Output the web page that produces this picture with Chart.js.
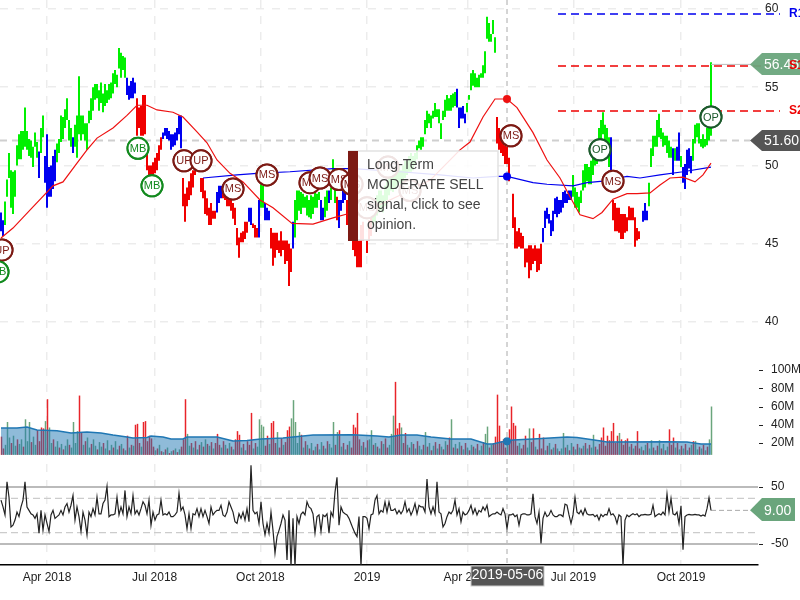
<!DOCTYPE html>
<html>
<head>
<meta charset="utf-8">
<title>Long-Term signal chart</title>
<script src="https://cdn.jsdelivr.net/npm/chart.js@4/dist/chart.umd.min.js"></script>
<style>
  html, body { margin: 0; padding: 0; background: #fff; }
  canvas { display: block; }
</style>
</head>
<body>
<canvas id="chart" width="800" height="600"></canvas>
<script>
// x is the bar number, one bar per session
var quarterTicks = [23, 76.8, 129.7, 183, 233.4, 286.2, 340];
var quarterLabels = ['Apr 2018', 'Jul 2018', 'Oct 2018', '2019', 'Apr 2019', 'Jul 2019', 'Oct 2019'];
var priceTicks = [40, 45, 50, 55, 60];
var volumeTicks = [20, 40, 60, 80, 100];
var volumeTickLabels = ['20M', '40M', '60M', '80M', '100M'];
var oscTicks = [50, -50];
var oscGuides = [30, -30];

var priceLow = [
  45.8,45.5,46.2,48,49.2,47.3,46.9,48,50,50.4,
  50.4,51,51.2,51,50.6,50.5,49.9,51.2,50.5,49.2,
  50.8,51.8,48.9,47.3,48,48,48.5,49,50.2,50.8,
  51.5,51.7,52.4,52.9,51.6,51.2,50.8,51.2,50.5,52,
  51.6,52,51.6,51,52.7,52.9,53.5,54.2,54.3,53.5,
  54,53.4,53.8,54,54.2,54.3,54.6,55.2,55,56.2,
  55.6,56.1,55.6,54.5,54.2,54.3,54.3,54.6,51.9,52.4,
  51.9,51.9,52,49.7,49.4,49.4,49.4,49.5,49.7,50.3,
  51,51.7,51.9,51.7,51.6,51,51.2,51.3,51.6,52,
  51.1,47.4,46.4,47.4,47.8,48.1,48.6,49.4,null,null,
  48.3,47.9,46.9,46.8,46.2,46.2,46.6,46.6,47,47.6,
  47.9,47.9,47.8,47.4,47.4,47.1,46.6,46.2,44.9,44.1,
  45.1,45.1,45.3,45.7,46.4,46.2,46,45.4,45.4,45.4,
  47.3,47.3,46.5,46.5,46.5,44.7,43.6,44.1,44.6,44.4,
  44.2,44.6,43.7,43.9,42.3,43.2,44.7,45.4,46.5,47.1,
  46.9,47.3,47.3,46.8,46.7,46.6,46.9,47.3,47.3,47.8,
  46.5,46.5,46.7,47.1,47.6,47.8,48.6,47.6,46.5,46,
  47.1,47.6,47.8,46.2,45.2,45.2,44.6,44.2,43.5,43.5,
  43.5,45.2,null,44.4,45.2,45.5,46.2,46.4,46.8,47,
  47.1,47,47.4,47.8,48.1,48.4,48.3,48.5,48.7,48.9,
  48.7,49,49.2,49.4,49.6,49.6,49.7,50,50.4,51.1,
  51,51.2,52,52.4,52.7,52.4,53,53.1,53.1,52.7,
  51.7,52.9,53.1,53.5,53.5,53.5,53.7,53.8,53.7,52.4,
  53,53,52.7,53.4,54.2,54.8,55.1,55,55,55,
  55.6,55.6,55.9,58.1,57.9,57.9,58.4,57.2,51.4,51,
  50.8,50.6,50.1,50.1,49,null,46,44.7,44.7,44.8,
  44.7,44.7,43.5,43.8,42.8,43.3,43.7,43.9,43.2,43.3,
  43.7,45.1,46,46.6,46.3,45.5,45.8,46.9,46.7,46.9,
  47,47.3,47.6,47.6,47.8,47.8,48,47.3,47.3,47,
  47.6,48.4,48.6,49,48.8,48.8,49.4,50,50.1,51,
  51.5,52,51,50.5,49.9,49.7,46.5,45.8,45.8,45.7,
  45.3,45.3,45.7,45.8,46.5,46.5,46.5,44.8,45.2,45.3,
  null,46.4,46.5,46.5,47.4,49.9,50.6,51.2,51.2,51.8,
  51.7,51.2,51.3,50.8,50.5,50.5,49.4,50.3,50.3,50.3,
  49.9,48.9,48.5,49.4,49.8,49.5,50.3,51.4,51.8,51.4,
  51.2,51.1,51.2,51.3,51.6,51.9
];
var priceHigh = [
  47,46.5,47.7,49.1,50.8,49.7,49.6,49.7,51.3,52,
  52.2,52.2,53.7,52.2,51.7,51.6,51.2,52.1,51.5,50.9,
  52.4,53.2,50.6,52,49.9,50,50.6,51,51.4,51.7,
  53.2,53.1,53.6,54.3,52.9,52.4,51.8,52.6,53.2,55.7,
  53.2,53.2,52.7,52.7,53.5,54.3,55,55.2,55.2,54.8,
  55.3,54.6,55.2,54.8,55.2,55.3,55.9,56.1,55.8,57.5,
  57.2,57,56.9,55.6,55.1,55.4,55.6,55.3,54.3,53.7,
  53.8,54.5,54.5,51,50,50,50.2,50.5,50.8,51.3,
  51.8,52.1,52.4,52.4,52.2,52,52,52.1,52.4,53.2,
  53.2,49.2,48.2,48.6,49,49.5,49.7,49.7,null,null,
  49.2,49.2,48.4,47.9,47.3,47.6,47.1,47.1,48.3,48.7,
  48.7,48.7,48.4,48.2,48,47.9,47.6,47.3,46,45.4,
  45.7,45.8,46.4,46.4,47.3,47.3,46.3,46.2,46,47.8,
  48.8,48.7,47.6,47.3,47.1,46,45.7,45.7,45.7,45.2,
  45.8,45.2,45.2,45.2,45,44.7,46.4,47.8,48.4,48.4,
  48.3,48.2,48,48.1,47.8,48.1,48,48.4,48.2,48.3,
  47.8,47.3,48,48.4,48.4,48.6,50.4,48.6,48,47.8,
  47.8,48.4,48.6,47.8,46.8,46.5,46.2,45.2,45.2,45.2,
  46.2,46.4,null,45.2,46.5,46.8,47.4,47.4,48.1,48.4,
  48.4,48.1,48.7,49,49.4,49.7,49.4,49.7,50,50,
  49.7,50,50.3,50.3,50.6,50.8,50.6,50.8,51.3,51.6,
  51.8,51.8,52.9,53.5,53.3,53.2,53.5,54,53.6,53.6,
  52.7,53.5,54.2,54.5,54.3,54.5,54.6,54.7,54.9,53.7,
  53.7,53.8,53.3,54,54.5,55.9,56.1,55.9,55.6,55.8,
  55.9,56.4,57.3,59.5,59.1,58.4,59.3,58.2,53.1,52.4,
  52,51.6,51.3,51.2,50.5,null,48.2,46.7,45.8,46,
  45.7,45.5,44.7,44.7,44.9,44.9,44.7,44.9,44.7,44.7,
  45,46,47.1,47.3,46.9,46.5,47.1,47.9,48,47.8,
  47.8,48.3,48.4,48.2,48.4,48.4,49.4,48.6,48.3,48,
  48.4,49.7,50.1,50.1,49.9,50.3,50.6,51.3,51.6,52.4,
  52.9,53.4,52.6,52.4,51.8,51.8,47.8,47.6,47.3,47.3,
  46.9,46.9,46.9,46.7,47.4,47.3,47.3,46.7,46,45.8,
  null,47.1,47.6,47.1,48.9,51.1,51.9,51.9,52.9,53.3,
  52.4,52.1,51.9,51.9,51.6,51.2,51.1,51.1,51.2,52.1,
  50.6,49.9,50.1,51,51.1,50.6,51.7,52.6,52.7,52.7,
  51.7,52,51.7,52.4,52.6,56.6
];
// trend colour of the bars as runs: [trend, number of bars]
var trendRuns = [
  ['b',2],['g',17],['b',1],['g',2],['b',6],['g',8],['b',1],['g',26],['b',5],['r',13],
  ['b',10],['r',17],['b',3],['r',13],['b',2],['r',3],['b',1],['g',2],['b',3],['r',11],
  ['b',1],['g',13],['b',2],['g',2],['b',1],['g',3],['r',1],['b',4],['r',13],['g',42],
  ['b',5],['g',15],['r',23],['b',15],['g',19],['b',1],['r',15],['b',3],['g',12],['b',1],
  ['g',1],['b',2],['g',1],['b',5],['g',10]
];

var redMaX = [0,6,16,26,31,38,43,48,56,63,68,73,78,86,91,98,103,108,114.5,121,129.5,136,145.5,156,166,173,176,189.5,199.5,214.5,229.5,234.5,241,247,253,258,266,273,279.5,284.5,289.5,296,300.5,306,313,318,324.5,329.5,334.5,341,347,351,355];
var redMaY = [45.37,46,47.35,48.7,48.95,50.15,51,51.75,52.4,53.2,53.85,53.85,53.55,53.4,53.1,52.15,51.45,50.35,49.5,48.95,47.8,47.3,46.3,46.25,46.65,46.9,46.9,47.5,48.1,49.05,51,51.5,53.1,54.25,54.25,53.7,52.1,50.35,49.2,48,46.85,46.6,47,47.85,48.2,48.2,48.25,48.75,49.2,49.25,48.95,49.4,50.15];
var blueMaX = [101,118,128,144.5,166,176,199.5,219.5,236,248,253,266,273,286,293,301,313,319.5,329.5,341,355];
var blueMaY = [49.2,49.4,49.5,49.6,49.8,49.8,49.6,49.4,49.2,49.3,49.3,48.9,48.8,48.7,48.9,49,49.3,49.2,49.4,49.6,49.9];

// support and resistance levels
var levelNames = ['R1', 'S1', 'S2'];
var levelValues = [59.68, 56.36, 53.48];
var levelColors = ['#0000ee', '#ee0000', '#ee0000'];

// signal circles
var signalX = [0.5,-1.5,68.5,75.5,91.5,100,116,133,154.5,159.5,169,175.5,183,193.5,204.5,255,299.5,306,355];
var signalY = [44.6,43.2,51.1,48.7,50.3,50.3,48.5,49.4,48.9,49.2,49.1,48.8,47.3,49.9,48.4,51.9,51,49,53.1];
var signalText = ['UP','MB','MB','MB','UP','UP','MS','MS','MS','MS','MS','MS','MS','MS','MS','MS','OP','MS','OP'];
var signalColors = { MB: '#128a1e', MS: '#7c1a14', UP: '#7c1a14', OP: '#1c5a2c' };

// volume in millions, negative means a down day
var volumeSigned = [
  -27,-14,18,43,26,-20,28,17,-24,19,
  24,-16,46,22,43,-21,27,18,-34,-22,
  -37,-36,44,-68,37,20,-24,16,22,-15,
  19,-13,17,24,-18,15,43,20,33,-72,
  -31,18,-22,26,15,-19,24,17,-13,21,
  16,-20,14,23,-12,18,-15,22,13,-17,
  19,-14,12,-28,15,-18,17,-40,-41,-20,
  16,-43,-44,-22,-28,-25,-16,12,-14,18,
  -11,10,-13,15,-9,11,-12,14,-10,13,
  -16,-24,-68,30,17,-20,15,-22,13,-18,
  21,-16,24,-19,17,-21,14,-20,-30,-18,
  15,-22,18,-14,20,-16,13,-24,-33,-29,
  15,-19,12,-22,-18,-53,14,-20,16,46,
  40,38,-17,-28,19,-42,-44,-20,32,-15,
  -25,18,-21,-34,-38,47,67,43,20,32,
  -29,15,-22,18,-14,20,-12,16,-19,13,
  21,-17,14,-22,19,15,43,-18,32,-34,
  16,-20,13,-18,22,-15,-40,-37,-53,-24,
  17,-21,15,-23,24,34,-18,20,-16,14,
  -22,19,-25,-15,18,30,50,-87,-36,-42,
  37,-20,-31,18,-15,21,-19,14,-22,17,
  13,-18,32,-16,20,-12,17,-21,14,-19,
  16,-13,22,-18,-26,46,-15,19,-14,21,
  -17,13,-20,15,-12,18,-16,14,-19,12,
  17,-21,30,38,-15,18,-20,-27,-73,-39,
  -22,-24,-15,18,-35,-60,-42,-39,-17,20,
  -14,-18,-28,15,36,-21,-36,16,-13,-30,
  -14,-26,12,-17,20,-13,15,-19,14,-11,
  14,31,-15,18,-12,20,-16,13,-19,15,
  -14,17,-20,14,-18,15,29,-16,13,-19,
  -26,-37,-17,-28,-23,-33,-42,-20,-28,31,
  -24,-18,-23,-25,16,-19,14,-17,-33,-14,
  16,-12,18,-20,14,23,-15,12,-17,23,
  -14,19,-12,16,-35,-18,-26,15,-20,13,
  -17,14,-19,12,-15,18,-22,22,13,-16,
  14,-18,12,-16,24,60
];
var volumeMaX = [0,8,13,18,28,35,43,50,56,63,66,73,75,81,85,91,93,108,116,123,130,141,146,156,176,188,194,200,208,215,225,235,243,246,250,256,266,283,288,300,303,333,343,350,355];
var volumeMaY = [36.4,36.4,37.5,34.2,33.5,31,32,31,28.8,26.6,25.5,26,27.7,26.6,24.4,24.4,26.6,26.6,22.2,22.8,24.4,25.5,26.6,28.8,29,27.7,26.6,28.8,28.8,26.6,24.4,24.4,19,18.9,21.1,23.3,24.4,26.6,26,22.2,21.1,21.5,21.1,18.9,18.9];
var volumeFloor = 7;

var oscValues = [
  27,15,1,59,32,-20,-17,-8,6,-2,
  15,27,59,15,9,3,1,-5,3,-31,
  9,-26,1,-14,-28,1,9,-5,-2,1,
  9,1,15,21,6,18,35,-8,15,-2,
  -28,6,-8,-34,6,-2,12,1,32,3,
  3,21,27,51,-2,1,1,3,32,1,
  15,3,44,-2,15,3,35,3,9,1,
  12,24,18,3,27,-17,6,-8,1,3,
  27,1,3,1,6,-2,-2,1,6,39,
  9,15,1,-23,3,-23,3,1,12,-2,
  12,-2,9,-2,-14,15,1,6,9,9,
  18,1,-2,6,24,15,6,-11,-14,3,
  -5,6,-8,12,-11,88,9,3,6,-14,
  24,-14,-34,-14,-31,6,-26,-66,-37,-26,
  -14,1,-8,-78,9,-89,-5,-89,-2,-14,
  2,6,1,24,15,12,3,-31,-2,1,
  -28,1,-2,3,-31,6,-2,41,67,-17,
  15,6,3,1,-5,-14,-23,-31,-37,-2,
  -89,-2,-2,-5,-23,1,3,27,35,3,
  9,6,24,6,24,9,9,12,3,9,
  3,9,24,6,12,1,9,21,3,18,
  15,15,6,64,15,3,15,3,59,6,
  3,-20,-14,-2,6,3,9,27,1,12,
  -11,6,1,3,9,18,3,12,1,9,
  6,15,9,18,-2,1,3,3,6,3,
  1,12,3,-23,1,1,3,-2,1,-17,
  1,3,3,1,1,3,38,-2,-14,6,
  -49,-5,6,-2,1,9,1,-2,-2,1,
  1,-2,20,18,1,-14,1,32,6,3,
  9,1,12,3,1,1,2,-2,1,-8,
  2,-2,2,1,12,1,3,-2,-14,
  1,-2,-89,-8,1,-2,1,3,1,3,
  -2,1,1,2,1,1,2,18,-2,1,
  3,1,6,1,38,6,30,3,1,6,
  -14,17,-60,-2,1,2,1,1,2,1,1,
  -1,1,-1,12,31,9
];

var lastPrice = 51.6;
var closeValue = 56.46;
var oscLast = 9;
var crossBar = 253;
var crossDate = '2019-05-06';
var tooltipLines = ['Long-Term', 'MODERATE SELL', 'signal, click to see', 'opinion.'];

var TREND_COLORS = { g: '#00f000', b: '#0000f0', r: '#f00000' };
var GRID_COLOR = 'rgba(0, 0, 0, 0.075)';
var FONT = '"Liberation Sans", Arial, sans-serif';
// moves the thin volume bars so most of each sits on one pixel
var VOLUME_X_NUDGE = 0.25;

/**
 * Expand the trend runs into one colour per bar.
 */
function buildTrendColors() {
  var colors = [];
  trendRuns.forEach(function (run) {
    for (var i = 0; i < run[1]; i++) colors.push(TREND_COLORS[run[0]]);
  });
  return colors;
}

function zipPoints(xs, ys) {
  return xs.map(function (x, i) { return { x: x, y: ys[i] }; });
}

function levelLine(value, color, axis, startX, endX, dash, width) {
  return {
    type: 'line',
    yAxisID: axis,
    data: [{ x: startX, y: value }, { x: endX, y: value }],
    borderColor: color,
    borderWidth: width,
    borderDash: dash,
    pointRadius: 0,
    clip: false,
    order: 3,
  };
}

/**
 * Price bars are floating low-high bars, gaps in the series are left out.
 */
function priceBarData() {
  var trend = buildTrendColors();
  var bars = [];
  var colors = [];
  priceLow.forEach(function (low, i) {
    if (low == null) return;
    bars.push({ x: i, y: [low, priceHigh[i]] });
    colors.push(trend[i]);
  });
  return { bars: bars, colors: colors };
}

var price = priceBarData();

var datasets = [
  {
    type: 'bar',
    yAxisID: 'y',
    data: price.bars,
    backgroundColor: price.colors,
    barThickness: 2,
    inflateAmount: 0,
    grouped: false,
    order: 6,
  },
  {
    type: 'line',
    yAxisID: 'y',
    data: zipPoints(redMaX, redMaY),
    borderColor: '#ee1111',
    borderWidth: 1.2,
    pointRadius: 0,
    order: 2,
  },
  {
    type: 'line',
    yAxisID: 'y',
    data: zipPoints(blueMaX, blueMaY),
    borderColor: '#0000ee',
    borderWidth: 1.2,
    pointRadius: 0,
    order: 2,
  },
  {
    type: 'bar',
    yAxisID: 'yVolume',
    data: volumeSigned.map(function (v, i) { return { x: i + VOLUME_X_NUDGE, y: [volumeFloor, Math.abs(v)] }; }),
    backgroundColor: volumeSigned.map(function (v) { return v < 0 ? '#e8242a' : '#6aa57c'; }),
    barThickness: 1.5,
    inflateAmount: 0,
    grouped: false,
    order: 6,
  },
  {
    type: 'line',
    yAxisID: 'yVolume',
    data: zipPoints(volumeMaX, volumeMaY),
    borderColor: '#1f77b4',
    borderWidth: 1.5,
    backgroundColor: 'rgba(31, 119, 180, 0.5)',
    fill: { value: volumeFloor },
    pointRadius: 0,
    order: 4,
  },
  levelLine(oscTicks[0], '#bbbbbb', 'yOsc', -0.5, 378.5, [], 2),
  levelLine(oscTicks[1], '#bbbbbb', 'yOsc', -0.5, 378.5, [], 2),
  levelLine(oscGuides[0], '#cccccc', 'yOsc', -0.5, 378.5, [7, 4], 1.2),
  levelLine(oscGuides[1], '#cccccc', 'yOsc', -0.5, 378.5, [7, 4], 1.2),
  {
    type: 'line',
    yAxisID: 'yOsc',
    data: oscValues.map(function (v, i) { return { x: i, y: v }; }),
    borderColor: '#222222',
    borderWidth: 1.2,
    pointRadius: 0,
    order: 2,
  },
  levelLine(oscLast, '#aaaaaa', 'yOsc', 355, 375, [5, 3], 1),
  levelLine(closeValue, '#bbbbbb', 'y', 355, 375, [], 1),
];

levelValues.forEach(function (value, i) {
  datasets.push(levelLine(value, levelColors[i], 'y', 278.5, 389.5, [8, 5], 1.5));
});

// crosshair dots on both averages and on the volume average
datasets.push({
  type: 'scatter',
  yAxisID: 'y',
  data: [{ x: crossBar, y: 54.25 }, { x: crossBar, y: 49.3 }],
  pointRadius: 4,
  pointBackgroundColor: ['#ee1111', '#0000ee'],
  pointBorderWidth: 0,
  order: 1,
});
datasets.push({
  type: 'scatter',
  yAxisID: 'yVolume',
  data: [{ x: crossBar, y: 22 }],
  pointRadius: 4,
  pointBackgroundColor: '#1f77b4',
  pointBorderWidth: 0,
  order: 1,
});

var SIGNAL_DATASET = datasets.length;
datasets.push({
  type: 'scatter',
  yAxisID: 'y',
  data: zipPoints(signalX, signalY),
  pointRadius: 10.5,
  pointBackgroundColor: '#ffffff',
  pointBorderColor: signalText.map(function (t) { return signalColors[t]; }),
  pointBorderWidth: 2,
  clip: false,
  order: 1,
});

/**
 * Crosshair lines go below the marks.
 */
var crosshairPlugin = {
  id: 'crosshair',
  beforeDatasetsDraw: function (chart) {
    var ctx = chart.ctx;
    var area = chart.chartArea;
    var yPx = chart.scales.y.getPixelForValue(lastPrice);
    var xPx = chart.scales.x.getPixelForValue(crossBar);
    ctx.save();
    ctx.strokeStyle = '#cfcfcf';
    ctx.lineWidth = 2;
    ctx.setLineDash([7, 5]);
    ctx.beginPath();
    ctx.moveTo(0, yPx);
    ctx.lineTo(750, yPx);
    ctx.stroke();
    ctx.strokeStyle = '#aaaaaa';
    ctx.lineWidth = 1;
    ctx.setLineDash([5, 4]);
    ctx.beginPath();
    ctx.moveTo(xPx, area.top);
    ctx.lineTo(xPx, area.bottom);
    ctx.stroke();
    ctx.restore();
  },
};

/**
 * Signal circles are redrawn one by one so each text sits with its circle.
 */
var signalPlugin = {
  id: 'signals',
  afterDatasetsDraw: function (chart) {
    var ctx = chart.ctx;
    var points = chart.getDatasetMeta(SIGNAL_DATASET).data;
    var everywhere = { left: -100, right: 900, top: -100, bottom: 700 };
    ctx.save();
    ctx.textAlign = 'center';
    ctx.textBaseline = 'middle';
    ctx.font = '11px ' + FONT;
    points.forEach(function (point, i) {
      point.draw(ctx, everywhere);
      ctx.fillStyle = signalColors[signalText[i]];
      ctx.fillText(signalText[i], point.x, point.y + 0.5);
    });
    ctx.restore();
  },
};

function arrowLabel(ctx, y, right, top, bottom, color, text) {
  ctx.fillStyle = color;
  ctx.beginPath();
  ctx.moveTo(750, y);
  ctx.lineTo(762, top);
  ctx.lineTo(right, top);
  ctx.lineTo(right, bottom);
  ctx.lineTo(762, bottom);
  ctx.closePath();
  ctx.fill();
  ctx.fillStyle = '#ffffff';
  ctx.font = '14px ' + FONT;
  ctx.textAlign = 'left';
  ctx.textBaseline = 'middle';
  ctx.fillText(text, 764, y + 0.5);
}

/**
 * Right side ticks of the two lower panels, labels and the signal box.
 */
var overlayPlugin = {
  id: 'overlay',
  afterDraw: function (chart) {
    var ctx = chart.ctx;
    var yPrice = chart.scales.y;
    var yVolume = chart.scales.yVolume;
    var yOsc = chart.scales.yOsc;
    ctx.save();

    // lower panel ticks
    ctx.font = '12px ' + FONT;
    ctx.fillStyle = '#222222';
    ctx.strokeStyle = '#222222';
    ctx.lineWidth = 1;
    ctx.textAlign = 'left';
    ctx.textBaseline = 'middle';
    function tick(y, label) {
      ctx.beginPath();
      ctx.moveTo(759, Math.round(y) + 0.5);
      ctx.lineTo(763, Math.round(y) + 0.5);
      ctx.stroke();
      ctx.fillText(label, 771, y);
    }
    volumeTicks.forEach(function (v, i) {
      tick(yVolume.getPixelForValue(v), volumeTickLabels[i]);
    });
    oscTicks.forEach(function (v) {
      tick(yOsc.getPixelForValue(v), String(v));
    });

    // value labels on the right
    arrowLabel(ctx, yPrice.getPixelForValue(closeValue), 800, 53, 75, 'rgba(106, 165, 124, 0.95)', closeValue.toFixed(2));
    arrowLabel(ctx, yPrice.getPixelForValue(lastPrice), 800, 130, 151, '#555555', lastPrice.toFixed(2));
    arrowLabel(ctx, yOsc.getPixelForValue(oscLast), 795, 498, 521, '#6aa57c', oscLast.toFixed(2));

    // level names
    ctx.font = 'bold 12px ' + FONT;
    ctx.textAlign = 'left';
    levelNames.forEach(function (name, i) {
      ctx.fillStyle = levelColors[i];
      ctx.fillText(name, 789, yPrice.getPixelForValue(levelValues[i]));
    });

    // date label on the crosshair
    ctx.fillStyle = '#555555';
    ctx.fillRect(471, 566, 73, 20);
    ctx.strokeStyle = '#cccccc';
    ctx.strokeRect(471, 566, 73, 20);
    ctx.fillStyle = '#ffffff';
    ctx.font = '14px ' + FONT;
    ctx.textAlign = 'center';
    ctx.fillText(crossDate, 507.5, 575);

    // signal box
    ctx.fillStyle = 'rgba(255, 255, 255, 0.88)';
    ctx.fillRect(349, 151, 149, 89);
    ctx.strokeStyle = '#e2e2e2';
    ctx.lineWidth = 1.5;
    ctx.strokeRect(349, 151, 149, 89);
    ctx.fillStyle = '#7c1a14';
    ctx.fillRect(348, 151, 10, 90);
    ctx.fillStyle = '#444444';
    ctx.font = '14px ' + FONT;
    ctx.textAlign = 'left';
    tooltipLines.forEach(function (line, i) {
      ctx.fillText(line, 367, 165.5 + i * 20);
    });
    ctx.restore();
  },
};

new Chart(document.getElementById('chart'), {
  type: 'bar',
  data: { datasets: datasets },
  plugins: [crosshairPlugin, signalPlugin, overlayPlugin],
  options: {
    responsive: false,
    animation: false,
    events: [],
    layout: { padding: 0, autoPadding: false },
    plugins: { legend: { display: false }, tooltip: { enabled: false } },
    scales: {
      x: {
        type: 'linear',
        offset: false,
        min: -0.5,
        max: 378.5,
        grid: { offset: false, color: GRID_COLOR, lineWidth: 1.5, drawTicks: false },
        border: { color: '#000000', width: 1.5, dash: [8, 8] },
        ticks: {
          autoSkip: false,
          maxRotation: 0,
          padding: 5,
          color: '#222222',
          font: { family: FONT, size: 12 },
          callback: function (value, i) { return quarterLabels[i]; },
        },
        afterBuildTicks: function (axis) {
          axis.ticks = quarterTicks.map(function (v) { return { value: v }; });
        },
        afterFit: function (axis) {
          axis.height = 35;
          axis.paddingLeft = 0;
          axis.paddingRight = 0;
        },
      },
      // all three value axes span the full plot height, so each panel is just a value range
      y: {
        type: 'linear',
        position: 'right',
        min: 24.47,
        max: 60.575,
        grid: { color: GRID_COLOR, lineWidth: 1.5, drawTicks: false },
        border: { display: false, dash: [8, 8] },
        ticks: {
          padding: 7,
          color: '#222222',
          font: { family: FONT, size: 12 },
        },
        afterBuildTicks: function (axis) {
          axis.ticks = priceTicks.map(function (v) { return { value: v }; });
        },
        afterFit: function (axis) {
          axis.width = 42;
          axis.paddingTop = 0;
          axis.paddingBottom = 0;
        },
      },
      yVolume: { type: 'linear', display: false, min: -113.7, max: 505.5 },
      yOsc: { type: 'linear', display: false, min: -86.84, max: 904.4 },
    },
  },
});
</script>
</body>
</html>
